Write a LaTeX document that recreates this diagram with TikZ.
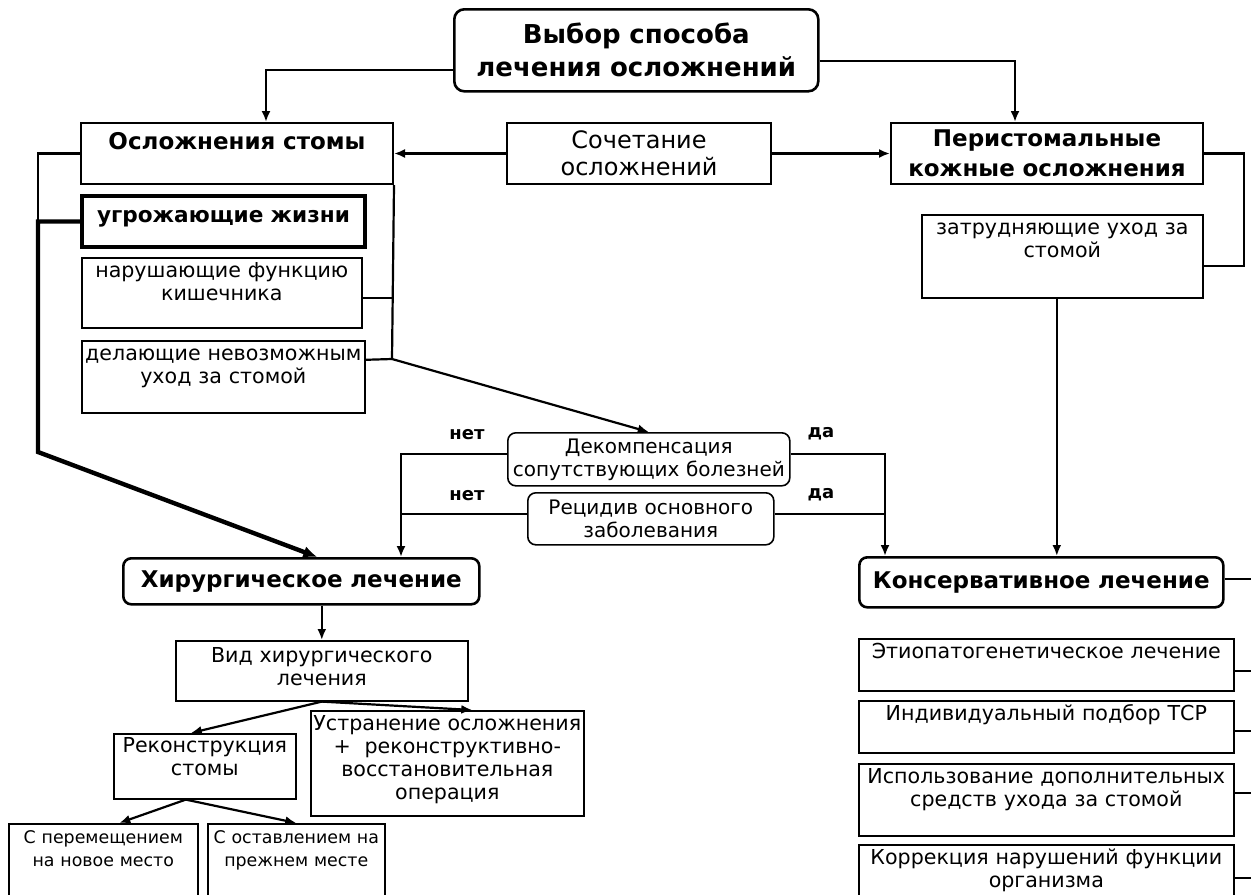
\documentclass[tikz,border=0pt]{standalone}
\usepackage{fontspec}
\setmainfont{DejaVu Sans}
\usetikzlibrary{arrows.meta, positioning}

\tikzset{
  box/.style={draw, line width=0.8pt, anchor=north west, align=center,
    inner xsep=0pt, inner ysep=2pt, text height=8pt,
    font=\fontsize{10.3}{11.5}\selectfont},
  headbox/.style={box, line width=1pt, inner ysep=3pt, text height=10pt,
    font=\bfseries\fontsize{11.5}{14}\selectfont},
  midbox/.style={draw, line width=1pt, anchor=north west, align=center,
    inner xsep=0pt, inner ysep=0pt},
  roundbox/.style={midbox, rounded corners=4pt},
  yn/.style={inner sep=1pt, font=\bfseries\fontsize{9}{10}\selectfont},
  link/.style={line width=1.1pt},
  arr/.style={link, -{Latex[length=5.5pt, width=4.5pt]}},
}

\begin{document}
\begin{tikzpicture}[x=0.5pt, y=-0.5pt]
  \useasboundingbox (0,0) rectangle (1251,894);
  \clip (0,0) rectangle (1251,894);
  \fill[white] (0,0) rectangle (1251,894);

  % upper part
  \node[roundbox, line width=1.3pt, rounded corners=5pt, text width=182pt, minimum height=41pt,
    font=\bfseries\fontsize{13}{16.5}\selectfont] (top) at (453,8) {Выбор способа\\лечения осложнений};
  \node[headbox, text width=156pt, text depth=14.5pt] (stoma) at (80,122) {Осложнения стомы};
  \node[midbox, text width=132pt, minimum height=30.5pt,
    font=\fontsize{12}{13.5}\selectfont] (combo) at (506,122) {Сочетание\\осложнений};
  \node[midbox, text width=156pt, minimum height=30.5pt,
    font=\bfseries\fontsize{11.5}{15}\selectfont] (skin) at (890,122) {Перистомальные\\кожные осложнения};
  \node[headbox, line width=2pt, text width=141.5pt, text depth=9.5pt,
    font=\bfseries\fontsize{10.8}{12}\selectfont] (threat) at (80,194) {угрожающие жизни};
  \node[box, text width=140pt, text depth=23pt] (bowel) at (81,257) {нарушающие функцию\\кишечника};
  \node[box, text width=141.5pt, text depth=24pt] (care) at (81,340) {делающие невозможным\\уход за стомой};
  \node[box, text width=140.5pt, text depth=29.5pt] (hard) at (921,214) {затрудняющие уход за\\стомой};

  % decision
  \node[roundbox, line width=0.8pt, text width=141pt, minimum height=26.5pt,
    font=\fontsize{10}{11.5}\selectfont] (decomp) at (507,432) {Декомпенсация\\сопутствующих болезней};
  \node[roundbox, line width=0.8pt, text width=123pt, minimum height=26pt,
    font=\fontsize{10}{11.5}\selectfont] (relapse) at (527,492) {Рецидив основного\\заболевания};
  \node[yn] (no1) at (467,435) {нет};
  \node[yn] (yes1) at (821,434) {да};
  \node[yn] (no2) at (467,496) {нет};
  \node[yn] (yes2) at (821,495) {да};

  % treatment
  \node[roundbox, line width=1.3pt, text width=178pt, minimum height=23pt,
    font=\bfseries\fontsize{11.5}{14}\selectfont] (surg) at (122,557) {Хирургическое лечение};
  \node[roundbox, line width=1.3pt, text width=182pt, minimum height=25pt,
    font=\bfseries\fontsize{11.5}{14}\selectfont] (cons) at (858,556) {Консервативное лечение};
  \node[box, inner ysep=3pt, text width=146pt, text depth=16pt] (kind) at (175,640) {Вид хирургического\\лечения};
  \node[box, inner ysep=1.5pt, text width=91pt, text depth=21.5pt] (recon) at (113,733) {Реконструкция\\стомы};
  \node[box, text width=136.5pt, text depth=40.5pt] (fix) at (310,710)
    {Устранение осложнения\\+\ \ реконструктивно-\\восстановительная\\операция};
  \node[box, text width=94.5pt, text depth=33pt,
    font=\fontsize{8.7}{11.5}\selectfont] (move) at (8,823) {С перемещением\\на новое место};
  \node[box, text width=88.5pt, text depth=33pt,
    font=\fontsize{8.7}{11.5}\selectfont] (keep) at (207,823) {С оставлением на\\прежнем месте};
  \node[box, text width=187.5pt, text depth=14pt] (etio) at (858,638) {Этиопатогенетическое лечение};
  \node[box, text width=187.5pt, text depth=14pt] (indiv) at (858,700) {Индивидуальный подбор ТСР};
  \node[box, text width=187.5pt, text depth=24pt] (extra) at (858,763)
    {Использование дополнительных\\средств ухода за стомой};
  \node[box, text width=187.5pt, text depth=23pt] (corr) at (858,844)
    {Коррекция нарушений функции\\организма};

  \coordinate (bend) at (38,452);
  \coordinate (jn) at (392,359);
  \coordinate (nl) at (401,0);
  \coordinate (yl) at (885,0);
  \coordinate (edge) at (1260,0);

  % connectors
  \draw[arr] ([yshift=-10pt]top.west) -| ([xshift=14.5pt]stoma.north);
  \draw[arr] ([yshift=-5.5pt]top.east) -| ([xshift=-16pt]skin.north);
  \draw[arr] (combo.west) -- (stoma.east);
  \draw[arr] (combo.east) -- (skin.west);
  \draw[line width=2.2pt, -{Latex[length=7pt, width=6pt]}] (threat.west) -| (bend) -- ([xshift=8pt]surg.north);
  \draw[link] (stoma.west) -| (threat.west -| bend);
  \draw[link] (stoma.south east) -- (jn);
  \draw[link] ([yshift=-2.5pt]bowel.east) coordinate (be) -- (be -| jn);
  \draw[link] ([yshift=8.5pt]care.east) -- (jn);
  \draw[arr] (jn) -- (decomp.north);
  \draw[link] (skin.east) -- ++(20pt,0) |- ([yshift=-4.75pt]hard.east);
  \draw[arr] ([xshift=-2.75pt]hard.south) -- ([xshift=-2.75pt]hard.south |- cons.north);

  \draw[arr] ([yshift=2.75pt]decomp.west) -| (nl |- surg.north);
  \draw[arr] ([yshift=2.75pt]decomp.east) -| (yl |- cons.north);
  \draw[link] ([yshift=2.5pt]relapse.west) coordinate (rw) -- (rw -| nl);
  \draw[link] ([yshift=2.5pt]relapse.east) coordinate (re) -- (re -| yl);

  \draw[arr] (kind.north |- surg.south) -- (kind.north);
  \draw[arr] (kind.south) -- ([xshift=-7pt]recon.north);
  \draw[arr] (kind.south) -- ([xshift=12.5pt]fix.north);
  \draw[arr] ([xshift=-9.5pt]recon.south) -- ([xshift=8pt]move.north);
  \draw[arr] ([xshift=-9.5pt]recon.south) -- (keep.north);

  \draw[link] ([yshift=1.5pt]cons.east) coordinate (ce) -- (ce -| edge);
  \foreach \n/\s in {etio/-3pt, indiv/-2pt, extra/3.5pt, corr/1pt}
    \draw[link] ([yshift=\s]\n.east) coordinate (se) -- (se -| edge);
\end{tikzpicture}
\end{document}
